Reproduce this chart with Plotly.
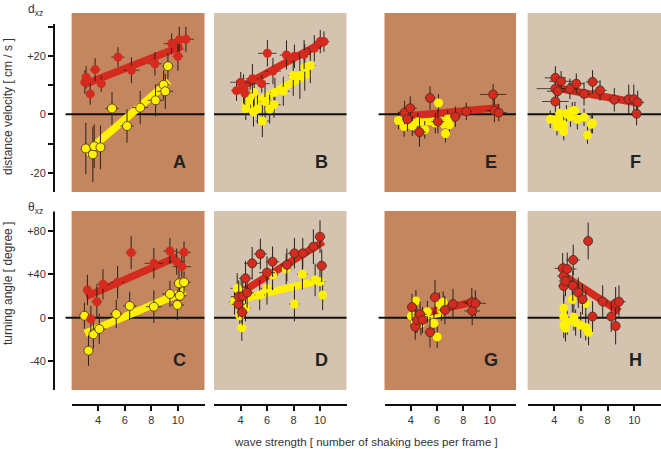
import plotly.graph_objects as go

# ---------------- data ----------------
# top row: distance velocity d_xz [cm/s]; bottom row: turning angle theta_xz [deg]
# x: wave strength [number of shaking bees per frame]

a_red_x = [3.0, 3.09, 3.4, 3.77, 4.23, 5.49, 6.5, 8.27, 9.53, 10.0, 10.1, 10.6]
a_red_y = [11.0, 12.7, 7.0, 15.3, 10.5, 19.6, 15.1, 17.3, 24.2, 19.9, 25.5, 25.7]
a_red_ey = [4.0, 3.8, 3.7, 3.9, 2.8, 3.4, 4.4, 4.0, 3.5, 5.0, 4.5, 4.3]
a_red_ex = [0.3, 0.3, 0.3, 0.4, 0.3, 0.5, 0.6, 0.5, 0.6, 0.4, 0.7, 0.6]
a_red_fit_x = [3.09, 10.34]
a_red_fit_y = [10.5, 23.4]
a_yel_x = [3.07, 3.6, 3.7, 4.17, 5.04, 6.17, 7.16, 8.32, 8.92, 9.05, 9.25]
a_yel_y = [-11.7, -13.7, -10.9, -11.3, 2.0, -4.0, 2.3, 4.8, 10.1, 7.9, 16.5]
a_yel_ey = [8.8, 9.5, 7.5, 7.5, 5.7, 5.7, 5.7, 5.5, 5.0, 6.0, 4.5]
a_yel_ex = [0.3, 0.3, 0.4, 0.3, 0.5, 0.5, 0.6, 0.6, 0.5, 0.6, 0.4]
a_yel_fit_x = [3.02, 9.33]
a_yel_fit_y = [-13.4, 11.3]

b_red_x = [3.7, 4.02, 4.23, 4.32, 4.9, 5.6, 6.03, 6.45, 7.47, 8.07, 8.8, 9.57, 10.02, 10.3]
b_red_y = [8.1, 11.0, 8.7, 7.3, 12.2, 10.5, 20.9, 14.8, 20.3, 19.9, 20.5, 22.6, 24.9, 24.9]
b_red_ey = [3.5, 3.5, 5.0, 4.0, 5.0, 3.0, 4.5, 4.5, 5.0, 4.0, 5.0, 4.5, 4.0, 3.5]
b_red_ex = [0.4, 0.8, 0.4, 0.5, 0.5, 0.6, 0.7, 0.6, 0.5, 0.5, 0.5, 0.5, 0.4, 0.4]
b_red_fit_x = [3.9, 10.4]
b_red_fit_y = [9.0, 25.1]
b_yel_x = [4.4, 4.47, 4.73, 4.98, 5.03, 5.28, 5.65, 5.85, 6.2, 6.53, 6.6, 7.23, 7.98, 8.48, 8.85, 9.27]
b_yel_y = [2.0, 4.1, 6.1, 0.8, 7.5, 1.8, -2.3, 4.4, 1.8, 3.3, 7.5, 7.9, 13.3, 13.3, 16.1, 16.7]
b_yel_ey = [4.0, 4.0, 5.0, 5.0, 6.0, 5.0, 5.5, 6.0, 5.0, 4.5, 5.0, 5.0, 7.0, 8.0, 8.0, 6.0]
b_yel_ex = [0.3, 0.3, 0.4, 0.4, 0.3, 0.4, 0.5, 0.4, 0.4, 0.5, 0.4, 0.5, 0.4, 0.4, 0.4, 0.4]
b_yel_fit_x = [4.27, 9.27]
b_yel_fit_y = [2.1, 14.2]

e_red_x = [3.53, 3.74, 3.96, 4.66, 5.46, 6.06, 7.39, 8.22, 10.26, 10.36, 10.69]
e_red_y = [0.6, -1.7, 2.1, -6.1, 5.6, -2.5, -0.8, 1.0, 6.8, 1.3, 0.6]
e_red_ey = [4.0, 4.0, 4.0, 5.0, 4.0, 4.0, 3.5, 3.0, 3.5, 4.0, 3.0]
e_red_ex = [0.5, 0.4, 0.5, 0.5, 0.4, 0.5, 0.4, 0.4, 1.0, 0.6, 0.6]
e_red_fit_x = [3.9, 10.7]
e_red_fit_y = [-0.5, 2.3]
e_yel_x = [3.06, 3.49, 4.11, 4.54, 5.06, 5.86, 6.11, 6.54, 6.64, 6.81, 6.94]
e_yel_y = [-2.1, -4.2, -3.9, -2.5, -5.3, -3.0, 3.9, -3.4, -6.6, -1.6, -3.6]
e_yel_ey = [3.0, 3.5, 3.5, 3.0, 3.0, 3.5, 3.0, 3.0, 3.0, 3.0, 3.0]
e_yel_ex = [0.3, 0.3, 0.3, 0.3, 0.3, 0.3, 0.3, 0.3, 0.3, 0.3, 0.3]
e_yel_fit_x = [3.2, 6.5]
e_yel_fit_y = [-3.0, -2.2]

f_red_x = [4.08, 4.51, 4.08, 4.25, 4.08, 5.17, 5.65, 6.23, 6.87, 7.43, 8.5, 9.58, 9.96, 10.25, 10.17]
f_red_y = [12.5, 11.3, 8.8, 7.9, 4.4, 8.7, 10.5, 7.0, 11.1, 8.2, 5.0, 5.2, 5.2, 4.1, 0.2]
f_red_ey = [4.0, 3.5, 4.0, 4.0, 3.5, 3.5, 3.5, 4.0, 4.0, 3.5, 4.0, 5.0, 5.0, 4.0, 4.0]
f_red_ex = [0.8, 0.9, 1.4, 0.8, 1.0, 0.7, 0.6, 0.5, 0.5, 0.5, 0.4, 0.4, 0.5, 0.5, 0.4]
f_red_fit_x = [4.2, 10.3]
f_red_fit_y = [9.0, 3.9]
f_yel_x = [3.7, 4.08, 4.4, 4.33, 4.2, 4.71, 4.71, 4.91, 5.22, 5.35, 5.55, 5.73, 6.23, 6.77, 6.87, 6.49]
f_yel_y = [-1.7, -1.9, 0.4, -1.7, -4.2, -3.6, -5.9, 0.2, -0.8, 1.2, 1.3, -1.7, -1.0, -3.4, -3.0, -7.1]
f_yel_ey = [3.0, 3.0, 3.5, 3.0, 3.0, 3.5, 3.0, 3.0, 3.5, 3.0, 3.0, 3.5, 3.0, 3.5, 3.5, 3.0]
f_yel_ex = [0.3, 0.3, 0.3, 0.3, 0.3, 0.3, 0.3, 0.3, 0.3, 0.3, 0.3, 0.3, 0.3, 0.3, 0.3, 0.3]

c_red_x = [3.19, 3.45, 3.9, 4.36, 5.46, 6.48, 8.19, 9.4, 9.91, 10.29, 10.46]
c_red_y = [25.5, -1.2, 14.7, 30.7, 32.5, 59.8, 50.0, 61.3, 51.5, 46.9, 60.1]
c_red_ey = [14, 12, 15, 14, 15, 15, 14, 12, 12, 10, 10]
c_red_ex = [0.3, 0.3, 0.4, 0.5, 0.5, 0.4, 0.7, 0.5, 0.6, 0.7, 0.5]
c_red_fit_x = [3.09, 9.96]
c_red_fit_y = [19.3, 56.1]
c_yel_x = [2.96, 3.27, 3.64, 4.08, 5.36, 6.37, 8.19, 9.4, 9.96, 10.14, 10.08, 10.46]
c_yel_y = [1.8, -30.3, -15.3, -10.4, 3.4, 10.8, 10.1, 21.8, 11.7, 20.2, 31.6, 32.5]
c_yel_ey = [12, 14, 13, 14, 13, 13, 15, 12, 14, 12, 12, 10]
c_yel_ex = [0.2, 0.3, 0.3, 0.5, 0.5, 0.5, 0.6, 0.6, 0.5, 0.5, 0.4, 0.5]
c_yel_fit_x = [3.02, 10.54]
c_yel_fit_y = [-14.4, 24.6]

d_red_x = [3.83, 3.87, 4.13, 4.17, 4.38, 4.5, 4.88, 5.5, 6.0, 6.42, 7.5, 8.07, 8.7, 9.5, 10.0, 10.13]
d_red_y = [12.3, 19.3, 5.0, 19.9, 36.2, 23.0, 50.0, 58.6, 41.4, 51.5, 48.5, 59.2, 59.2, 65.3, 74.5, 47.8]
d_red_ey = [12, 15, 12, 14, 16, 14, 15, 14, 15, 14, 15, 14, 14, 16, 15, 15]
d_red_ex = [0.5, 0.6, 0.4, 0.5, 0.5, 0.5, 0.6, 0.5, 0.6, 0.5, 0.5, 0.5, 0.5, 0.4, 0.4, 0.4]
d_red_fit_x = [4.13, 10.25]
d_red_fit_y = [23.9, 69.9]
d_yel_x = [3.55, 3.75, 3.95, 4.05, 4.1, 4.38, 5.45, 6.0, 6.42, 7.45, 8.07, 8.67, 9.63, 10.0, 10.2]
d_yel_y = [14.7, 27.0, 1.8, 23.9, -9.2, 8.6, 20.9, 27.0, 39.3, 44.8, 12.6, 39.9, 34.7, 33.1, 20.9]
d_yel_ey = [12, 14, 12, 14, 12, 12, 14, 15, 14, 14, 16, 14, 15, 15, 14]
d_yel_ex = [0.4, 0.5, 0.3, 0.4, 0.3, 0.4, 0.4, 0.5, 0.4, 0.4, 0.4, 0.4, 0.4, 0.4, 0.3]
d_yel_fit_x = [3.75, 10.13]
d_yel_fit_y = [16.3, 34.7]

g_red_x = [4.09, 4.34, 4.47, 4.71, 4.89, 5.46, 5.84, 6.59, 7.21, 8.64, 8.67, 8.91]
g_red_y = [9.8, -8.3, -2.1, 3.1, -2.1, -13.4, 18.8, 7.1, 12.6, 14.2, 6.2, 13.2]
g_red_ey = [12, 12, 12, 12, 12, 14, 16, 13, 14, 13, 13, 12]
g_red_ex = [0.3, 0.3, 0.4, 0.5, 0.4, 0.4, 0.4, 0.5, 0.4, 0.7, 0.6, 0.8]
g_red_fit_x = [4.47, 9.09]
g_red_fit_y = [2.5, 15.4]
g_yel_x = [4.04, 4.34, 4.39, 4.77, 5.26, 5.76, 6.01, 6.16, 6.34, 6.46]
g_yel_y = [1.6, -3.7, 15.4, -5.2, 5.5, -5.2, -17.7, 13.2, 7.1, 14.1]
g_yel_ey = [10, 10, 10, 11, 10, 11, 10, 10, 10, 10]
g_yel_ex = [0.3, 0.3, 0.3, 0.3, 0.3, 0.3, 0.3, 0.3, 0.3, 0.3]
g_yel_fit_x = [4.4, 6.4]
g_yel_fit_y = [0.0, 4.5]

h_red_x = [4.63, 4.71, 4.71, 4.84, 4.97, 5.39, 5.42, 5.8, 6.11, 6.54, 6.87, 7.63, 8.27, 8.6, 8.6, 8.85]
h_red_y = [45.4, 38.3, 29.1, 33.7, 44.8, 29.4, 53.1, 23.0, 17.0, 70.5, 1.0, 14.8, 1.0, 13.2, -7.6, 14.7]
h_red_ey = [14, 12, 14, 14, 15, 14, 14, 14, 14, 17, 14, 15, 14, 15, 17, 15]
h_red_ex = [0.6, 0.5, 0.4, 0.5, 0.7, 0.4, 0.5, 0.4, 0.4, 0.3, 0.3, 0.4, 0.3, 0.4, 0.3, 0.5]
h_red_fit_x = [4.63, 8.9]
h_red_fit_y = [39.3, 5.5]
h_yel_x = [4.71, 4.71, 4.71, 4.84, 4.97, 5.35, 5.47, 5.6, 5.98, 6.36, 6.36, 6.57]
h_yel_y = [8.6, 1.0, -6.7, -9.8, -3.7, 16.8, 0.4, -4.5, -6.7, 13.1, -8.8, -13.4]
h_yel_ey = [12, 12, 12, 12, 12, 12, 12, 12, 12, 12, 12, 12]
h_yel_ex = [0.3, 0.3, 0.3, 0.3, 0.3, 0.3, 0.3, 0.3, 0.3, 0.3, 0.3, 0.3]

x_ticks = [4, 6, 8, 10]
x_title = "wave strength [ number of shaking bees per frame ]"

# ---------------- styling / layout ----------------
W, H = 661, 449
FONT = "Liberation Sans, Arial, sans-serif"
DARK_BG = "#C4865F"
LIGHT_BG = "#D3C3AF"
RED = "#D52B1E"
YEL = "#FFF100"
BAR = "#2a221c"
OUTLINE = "#4a2a20"

cols = [(71.6, 204.5), (214.0, 346.5), (384.5, 516.0), (527.6, 661.0)]
rows = [(13.0, 192.0), (211.0, 390.0)]
top_range = [-26.6, 34.7]
bot_range = [-66.5, 98.1]


def fx(p):
    return p / W


def fy(p):
    return 1 - p / H


# (label, row, col, bg, red data, yellow data, red outline, yellow outline)
panels = [
    ("A", 0, 0, DARK_BG, (a_red_x, a_red_y, a_red_ex, a_red_ey, a_red_fit_x, a_red_fit_y),
     (a_yel_x, a_yel_y, a_yel_ex, a_yel_ey, a_yel_fit_x, a_yel_fit_y), False, True),
    ("B", 0, 1, LIGHT_BG, (b_red_x, b_red_y, b_red_ex, b_red_ey, b_red_fit_x, b_red_fit_y),
     (b_yel_x, b_yel_y, b_yel_ex, b_yel_ey, b_yel_fit_x, b_yel_fit_y), False, False),
    ("E", 0, 2, DARK_BG, (e_red_x, e_red_y, e_red_ex, e_red_ey, e_red_fit_x, e_red_fit_y),
     (e_yel_x, e_yel_y, e_yel_ex, e_yel_ey, e_yel_fit_x, e_yel_fit_y), True, False),
    ("F", 0, 3, LIGHT_BG, (f_red_x, f_red_y, f_red_ex, f_red_ey, f_red_fit_x, f_red_fit_y),
     (f_yel_x, f_yel_y, f_yel_ex, f_yel_ey, None, None), True, False),
    ("C", 1, 0, DARK_BG, (c_red_x, c_red_y, c_red_ex, c_red_ey, c_red_fit_x, c_red_fit_y),
     (c_yel_x, c_yel_y, c_yel_ex, c_yel_ey, c_yel_fit_x, c_yel_fit_y), False, True),
    ("D", 1, 1, LIGHT_BG, (d_red_x, d_red_y, d_red_ex, d_red_ey, d_red_fit_x, d_red_fit_y),
     (d_yel_x, d_yel_y, d_yel_ex, d_yel_ey, d_yel_fit_x, d_yel_fit_y), True, False),
    ("G", 1, 2, DARK_BG, (g_red_x, g_red_y, g_red_ex, g_red_ey, g_red_fit_x, g_red_fit_y),
     (g_yel_x, g_yel_y, g_yel_ex, g_yel_ey, g_yel_fit_x, g_yel_fit_y), True, False),
    ("H", 1, 3, LIGHT_BG, (h_red_x, h_red_y, h_red_ex, h_red_ey, h_red_fit_x, h_red_fit_y),
     (h_yel_x, h_yel_y, h_yel_ex, h_yel_ey, None, None), True, False),
]

fig = go.Figure()
layout = {}
shapes = []
annotations = []

for i, (label, r, c, bg, red, yel, red_ol, yel_ol) in enumerate(panels):
    n = i + 1
    xa = "x" if n == 1 else f"x{n}"
    ya = "y" if n == 1 else f"y{n}"
    xk = "xaxis" if n == 1 else f"xaxis{n}"
    yk = "yaxis" if n == 1 else f"yaxis{n}"
    x0, x1 = cols[c]
    y0, y1 = rows[r]
    yr = top_range if r == 0 else bot_range

    # x axes: only bottom row shows ticks, on a detached line below the panels
    xax = dict(domain=[fx(x0), fx(x1)], range=[2, 12], showgrid=False, zeroline=False,
               anchor=ya, fixedrange=True, automargin=False)
    if r == 1:
        xax.update(anchor="free", position=fy(405), showline=True, linecolor="#111",
                   linewidth=2, ticks="outside", ticklen=5, tickwidth=1.5, tickcolor="#111",
                   tickvals=x_ticks, ticktext=[str(v) for v in x_ticks],
                   tickfont=dict(family=FONT, size=11, color="#333"))
    else:
        xax.update(showticklabels=False, showline=False, ticks="")
    layout[xk] = xax

    yax = dict(domain=[fy(y1), fy(y0)], range=yr, showgrid=False, zeroline=False,
               anchor=xa, showline=False, fixedrange=True, automargin=False)
    if c == 0:
        if r == 0:
            tv, tt, mv = [-20, 0, 20], ["-20", "0", "+20"], [-10, 10, 30]
        else:
            tv, tt, mv = [-40, 0, 40, 80], ["-40", "0", "+40", "+80"], []
        yax.update(anchor="free", position=fx(54), ticks="outside", ticklen=6,
                   tickwidth=1.5, tickcolor="#111", tickvals=tv, ticktext=tt,
                   tickfont=dict(family=FONT, size=11, color="#333"))
        if mv:
            yax["minor"] = dict(tickvals=mv, ticks="outside", ticklen=6, tickwidth=1.5,
                                tickcolor="#111")
    else:
        yax.update(showticklabels=False, ticks="")
    layout[yk] = yax

    # panel background
    shapes.append(dict(type="rect", xref=f"{xa} domain", yref=f"{ya} domain",
                       x0=0, x1=1, y0=0, y1=1, fillcolor=bg, line_width=0, layer="below"))
    # zero line
    shapes.append(dict(type="line", xref=f"{xa} domain", yref=ya,
                       x0=-0.045 if bg == DARK_BG else 0, x1=1, y0=0, y1=0,
                       line=dict(color="#111", width=2), layer="below"))

    # regression bands
    for data, col in ((yel, YEL), (red, RED)):
        if data[4] is not None:
            fig.add_trace(go.Scatter(x=data[4], y=data[5], mode="lines",
                                     line=dict(color=col, width=7.5), xaxis=xa, yaxis=ya,
                                     hoverinfo="skip", showlegend=False))

    # points with error bars
    for data, col, ol in ((yel, YEL, yel_ol), (red, RED, red_ol)):
        fig.add_trace(go.Scatter(
            x=data[0], y=data[1], mode="markers", xaxis=xa, yaxis=ya, showlegend=False,
            marker=dict(color=col, size=9,
                        line=dict(color=OUTLINE if ol else col, width=0.8 if ol else 0)),
            error_y=dict(type="data", array=data[3], color=BAR, thickness=1, width=0),
            error_x=dict(type="data", array=data[2], color=BAR, thickness=0.8, width=0),
        ))

    annotations.append(dict(text=f"<b>{label}</b>", xref=f"{xa} domain", yref=f"{ya} domain",
                            x=0.81, y=0.165, xanchor="center", yanchor="middle",
                            showarrow=False, font=dict(family=FONT, size=18, color="#222")))

# left axis lines
shapes.append(dict(type="line", xref="paper", yref="y", x0=fx(54), x1=fx(54),
                   y0=-27.0, y1=30.9, line=dict(color="#111", width=2)))
shapes.append(dict(type="line", xref="paper", yref="y5", x0=fx(54), x1=fx(54),
                   y0=-67.0, y1=97.6, line=dict(color="#111", width=2)))

annotations += [
    dict(text="d<sub>xz</sub>", xref="paper", yref="paper", x=fx(26), y=fy(10),
         xanchor="left", yanchor="middle", showarrow=False,
         font=dict(family=FONT, size=12, color="#333")),
    dict(text="θ<sub>xz</sub>", xref="paper", yref="paper", x=fx(26), y=fy(208),
         xanchor="left", yanchor="middle", showarrow=False,
         font=dict(family=FONT, size=12, color="#333")),
    dict(text="distance velocity [ cm / s ]", xref="paper", yref="paper", x=fx(8), y=fy(107),
         xanchor="center", yanchor="middle", textangle=-90, showarrow=False,
         font=dict(family=FONT, size=12, color="#333")),
    dict(text="turning angle [ degree ]", xref="paper", yref="paper", x=fx(8), y=fy(284),
         xanchor="center", yanchor="middle", textangle=-90, showarrow=False,
         font=dict(family=FONT, size=12, color="#333")),
    dict(text=x_title, xref="paper", yref="paper", x=fx(366), y=fy(442),
         xanchor="center", yanchor="middle", showarrow=False,
         font=dict(family=FONT, size=11.5, color="#333")),
]

fig.update_layout(
    template="none",
    width=W, height=H,
    margin=dict(l=0, r=0, t=0, b=0, pad=0),
    paper_bgcolor="white", plot_bgcolor="rgba(0,0,0,0)",
    shapes=shapes, annotations=annotations,
    showlegend=False,
    **layout,
)

# the page's default body margin would shift the fixed-size figure by 8px
fig.write_html("out.html", config={"displayModeBar": False},
               post_script="document.body.style.margin='0';")
